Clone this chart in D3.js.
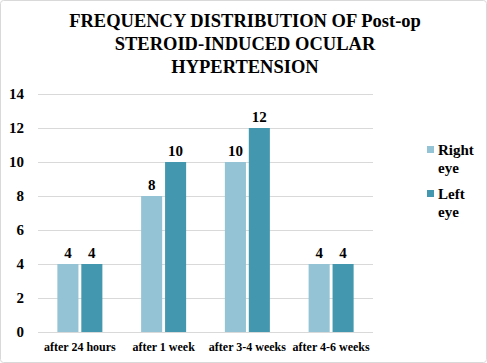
<!DOCTYPE html>
<html>
<head>
<meta charset="utf-8">
<script src="https://cdn.jsdelivr.net/npm/d3@7"></script>
<style>
  body { margin: 0; background: #fff; }
  svg text { font-family: 'Liberation Serif', serif; font-weight: bold; fill: #000; }
</style>
</head>
<body>
<svg id="chart" width="487" height="363"></svg>
<script>
// Chart data
const categories = ['after 24 hours', 'after 1 week', 'after 3-4 weeks', 'after 4-6 weeks'];
const rightEye = [4, 8, 10, 4];
const leftEye = [4, 10, 12, 4];
const seriesNames = ['Right eye', 'Left eye'];
const yTicks = [0, 2, 4, 6, 8, 10, 12, 14];
const titleLines = ['FREQUENCY DISTRIBUTION OF Post-op', 'STEROID-INDUCED OCULAR', 'HYPERTENSION'];

const colors = ['#93c3d4', '#4398b0'];

const svg = d3.select('#chart');

// Outer border
svg.append('rect')
    .attr('x', 0.5).attr('y', 0.5)
    .attr('width', 486).attr('height', 362)
    .attr('rx', 3)
    .attr('fill', '#fff')
    .attr('stroke', '#d9d9d9');

// Title
svg.append('g').selectAll('text')
    .data(titleLines)
    .join('text')
    .attr('x', 245)
    .attr('y', (d, i) => 27 + i * 23)
    .attr('text-anchor', 'middle')
    .style('font-size', '18.5px')
    .text(d => d);

// Plot area
const plot = {left: 38, right: 373, top: 94, bottom: 332};

const x = d3.scaleBand()
    .domain(categories)
    .range([plot.left, plot.right]);

const x1 = d3.scaleBand()
    .domain([0, 1])
    .range([0, 45])
    .paddingInner(0.12);

const y = d3.scaleLinear()
    .domain([0, 14])
    .range([plot.bottom, plot.top]);

// Gridlines
svg.append('g').selectAll('line')
    .data(yTicks)
    .join('line')
    .attr('x1', plot.left).attr('x2', plot.right)
    .attr('y1', d => y(d) + 0.5).attr('y2', d => y(d) + 0.5)
    .attr('stroke', '#d9d9d9')
    .attr('stroke-width', 1);

// Y tick labels
svg.append('g').selectAll('text')
    .data(yTicks)
    .join('text')
    .attr('x', 24)
    .attr('y', d => y(d) + 5)
    .attr('text-anchor', 'end')
    .style('font-size', '15px')
    .text(d => d);

// Bars
const rows = categories.map((c, i) => ({cat: c, vals: [rightEye[i], leftEye[i]]}));
const groups = svg.append('g').selectAll('g')
    .data(rows)
    .join('g')
    .attr('transform', d => `translate(${x(d.cat) + x.bandwidth() / 2 - 22.5},0)`);

groups.selectAll('rect')
    .data(d => d.vals)
    .join('rect')
    .attr('x', (d, i) => x1(i))
    .attr('y', d => y(d))
    .attr('width', x1.bandwidth())
    .attr('height', d => y(0) - y(d))
    .attr('fill', (d, i) => colors[i]);

// Value labels
groups.selectAll('text')
    .data(d => d.vals)
    .join('text')
    .attr('x', (d, i) => x1(i) + x1.bandwidth() / 2)
    .attr('y', d => y(d) - 6)
    .attr('text-anchor', 'middle')
    .style('font-size', '15px')
    .text(d => d);

// Baseline
svg.append('line')
    .attr('x1', plot.left).attr('x2', plot.right)
    .attr('y1', plot.bottom + 0.5).attr('y2', plot.bottom + 0.5)
    .attr('stroke', '#d9d9d9');

// X labels
svg.append('g').selectAll('text')
    .data(categories)
    .join('text')
    .attr('x', d => x(d) + x.bandwidth() / 2)
    .attr('y', 351)
    .attr('text-anchor', 'middle')
    .style('font-size', '12px')
    .text(d => d);

// Legend
const legend = svg.append('g').selectAll('g')
    .data(seriesNames)
    .join('g')
    .attr('transform', (d, i) => `translate(427,${146 + i * 44})`);

legend.append('rect')
    .attr('width', 7).attr('height', 7)
    .attr('fill', (d, i) => colors[i]);

legend.append('text')
    .style('font-size', '15px')
    .selectAll('tspan')
    .data(d => d.split(' '))
    .join('tspan')
    .attr('x', 11)
    .attr('y', (d, i) => 9 + i * 18)
    .text(d => d);
</script>
</body>
</html>
